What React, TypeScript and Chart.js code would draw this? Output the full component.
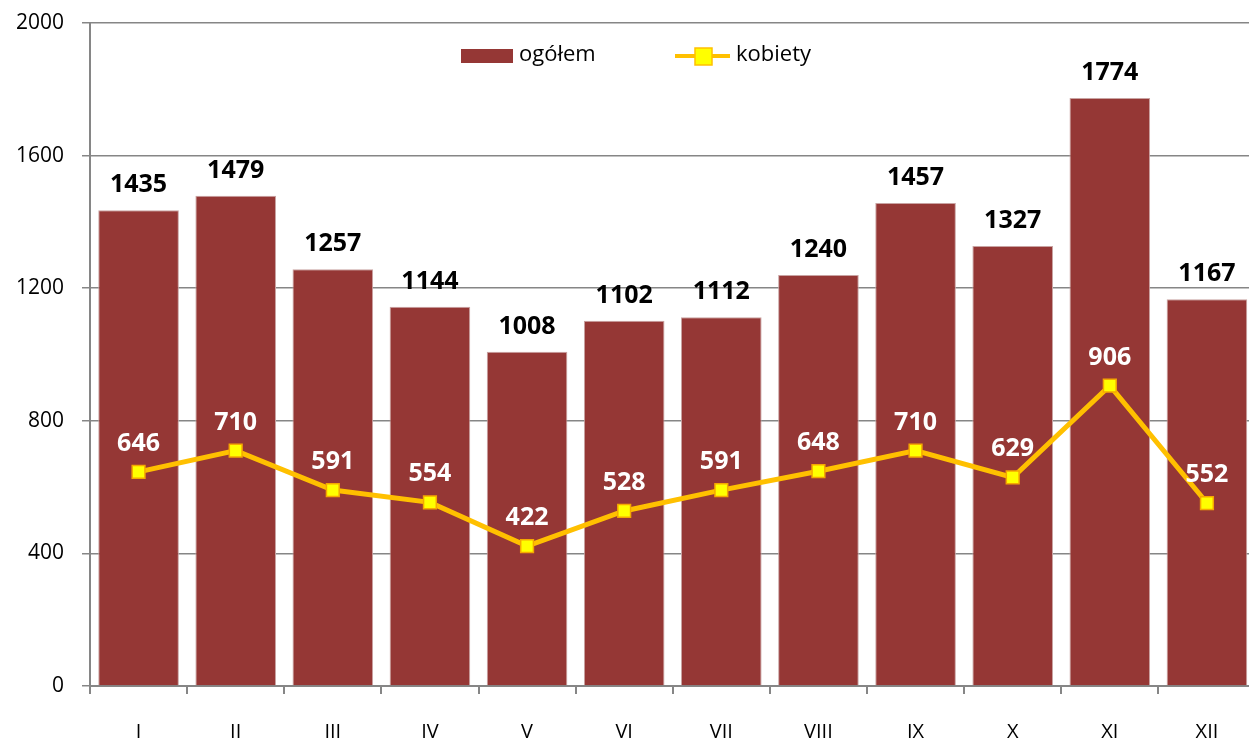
import React, { useEffect, useRef } from "react";
import { Chart, registerables } from "chart.js";

Chart.register(...registerables);

const categories = ["I", "II", "III", "IV", "V", "VI", "VII", "VIII", "IX", "X", "XI", "XII"];
const ogolem = [1435, 1479, 1257, 1144, 1008, 1102, 1112, 1240, 1457, 1327, 1774, 1167];
const kobiety = [646, 710, 591, 554, 422, 528, 591, 648, 710, 629, 906, 552];
const seriesNames = ["ogółem", "kobiety"];
const yMin = 0;
const yMax = 2000;
const yStep = 400;

const BAR_COLOR = "#953735";
const LINE_COLOR = "#FFC000";
const POINT_FILL = "#FFFF00";
const GRID = "#868686";
const FONT = "'Open Sans', 'DejaVu Sans', sans-serif";

const labelsPlugin = {
  id: "valueLabels",
  afterDatasetsDraw(chart: any) {
    const ctx = chart.ctx;
    ctx.save();
    ctx.textAlign = "center";
    ctx.textBaseline = "alphabetic";
    ctx.font = `bold 25px ${FONT}`;
    const barMeta = chart.getDatasetMeta(0);
    barMeta.data.forEach((el: any, i: number) => {
      ctx.fillStyle = "#000";
      ctx.fillText(String(chart.data.datasets[0].data[i]), el.x, el.y - 18);
    });
    const lineMeta = chart.getDatasetMeta(1);
    lineMeta.data.forEach((el: any, i: number) => {
      ctx.fillStyle = "#fff";
      ctx.fillText(String(chart.data.datasets[1].data[i]), el.x, el.y - 21);
    });
    ctx.restore();
  },
};

const legendPlugin = {
  id: "customLegend",
  afterDraw(chart: any) {
    const ctx = chart.ctx;
    ctx.save();
    const cy = 56;
    ctx.fillStyle = BAR_COLOR;
    ctx.fillRect(461, 49, 52, 14);
    ctx.fillStyle = "#000";
    ctx.font = `22px ${FONT}`;
    ctx.textBaseline = "middle";
    ctx.textAlign = "left";
    ctx.fillText(seriesNames[0], 519, cy - 1);
    ctx.strokeStyle = LINE_COLOR;
    ctx.lineWidth = 4;
    ctx.beginPath();
    ctx.moveTo(675, cy);
    ctx.lineTo(730, cy);
    ctx.stroke();
    ctx.fillStyle = POINT_FILL;
    ctx.fillRect(695, cy - 8, 17, 17);
    ctx.lineWidth = 1.5;
    ctx.strokeRect(695, cy - 8, 17, 17);
    ctx.fillStyle = "#000";
    ctx.fillText(seriesNames[1], 736, cy - 1);
    ctx.restore();
  },
};

export default function App() {
  const canvasRef = useRef<HTMLCanvasElement | null>(null);

  useEffect(() => {
    if (!canvasRef.current) return;
    Chart.defaults.font.family = FONT;
    Chart.defaults.color = "#000";
    const chart = new Chart(canvasRef.current, {
      type: "bar",
      data: {
        labels: categories,
        datasets: [
          {
            type: "bar",
            label: seriesNames[0],
            data: ogolem,
            backgroundColor: BAR_COLOR,
            borderColor: "#c9a3a2",
            borderWidth: 1,
            barPercentage: 0.83,
            categoryPercentage: 1,
            order: 1,
          } as any,
          {
            type: "line",
            label: seriesNames[1],
            data: kobiety,
            borderColor: LINE_COLOR,
            borderWidth: 5,
            backgroundColor: POINT_FILL,
            pointStyle: "rect",
            pointRadius: 9,
            pointBackgroundColor: POINT_FILL,
            pointBorderColor: "#F5A800",
            pointBorderWidth: 1.5,
            tension: 0,
            order: 0,
          } as any,
        ],
      },
      options: {
        responsive: false,
        animation: false,
        layout: { padding: { top: 23, right: 0, left: 0, bottom: 0 } },
        plugins: {
          legend: { display: false },
          tooltip: { enabled: false },
        },
        scales: {
          x: {
            grid: {
              display: true,
              drawOnChartArea: false,
              drawTicks: true,
              tickLength: 8,
              color: GRID,
              lineWidth: 2,
              offset: true,
            },
            border: { display: true, color: GRID, width: 2 },
            ticks: { font: { size: 20 }, padding: 26, color: "#000" },
            afterFit: (s: any) => {
              s.height = 54;
              s.paddingLeft = 0;
              s.paddingRight = 0;
            },
          },
          y: {
            min: yMin,
            max: yMax,
            ticks: {
              stepSize: yStep,
              font: { size: 21 },
              padding: 18,
              color: "#000",
              callback: (v: any) => String(v),
            },
            grid: { color: GRID, lineWidth: 1.5, tickLength: 8 },
            border: { display: true, color: GRID, width: 2 },
            afterFit: (s: any) => {
              s.width = 90;
              s.paddingTop = 0;
              s.paddingBottom = 0;
            },
          },
        },
      },
      plugins: [labelsPlugin, legendPlugin],
    });
    return () => chart.destroy();
  }, []);

  return (
    <div
      style={{
        position: "absolute",
        left: 0,
        top: 0,
        width: 1249,
        height: 740,
        overflow: "hidden",
        background: "#fff",
      }}
    >
      <canvas ref={canvasRef} width={1266} height={740} style={{ display: "block" }} />
    </div>
  );
}
